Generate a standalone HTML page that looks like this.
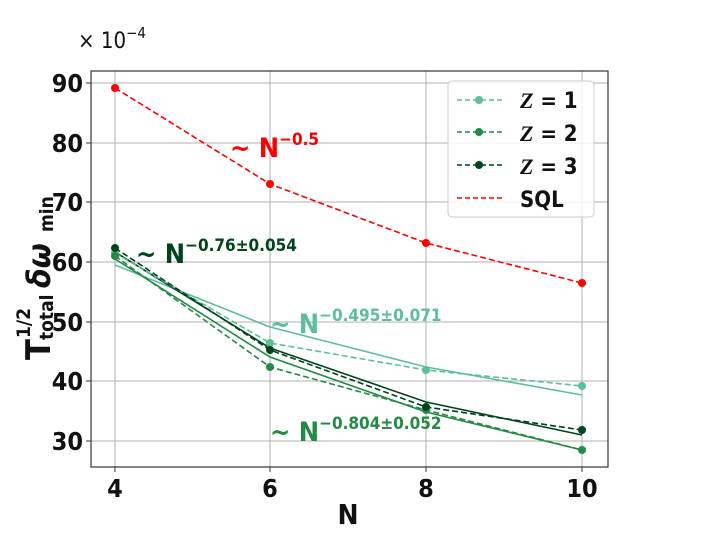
<!DOCTYPE html>
<html><head><style>
body{margin:0;background:#fff}
svg{font-family:"DejaVu Sans Condensed","Liberation Sans",sans-serif;font-weight:bold}
</style></head><body>
<svg width="720" height="539" viewBox="0 0 720 539" xmlns="http://www.w3.org/2000/svg">
<g stroke="#b0b0b0" stroke-width="1">
<line x1="115" y1="71" x2="115" y2="467"/><line x1="270" y1="71" x2="270" y2="467"/>
<line x1="426" y1="71" x2="426" y2="467"/><line x1="582" y1="71" x2="582" y2="467"/>
<line x1="91" y1="83" x2="608" y2="83"/><line x1="91" y1="143" x2="608" y2="143"/>
<line x1="91" y1="202" x2="608" y2="202"/><line x1="91" y1="262" x2="608" y2="262"/>
<line x1="91" y1="322" x2="608" y2="322"/><line x1="91" y1="381" x2="608" y2="381"/>
<line x1="91" y1="441" x2="608" y2="441"/>
</g>
<rect x="91" y="71" width="517" height="396" fill="none" stroke="#333" stroke-width="1.2"/>
<g stroke="#333"><line x1="115" y1="467" x2="115" y2="472"/><line x1="270" y1="467" x2="270" y2="472"/><line x1="426" y1="467" x2="426" y2="472"/><line x1="582" y1="467" x2="582" y2="472"/>
<line x1="86" y1="83" x2="91" y2="83"/><line x1="86" y1="143" x2="91" y2="143"/><line x1="86" y1="202" x2="91" y2="202"/><line x1="86" y1="262" x2="91" y2="262"/><line x1="86" y1="322" x2="91" y2="322"/><line x1="86" y1="381" x2="91" y2="381"/><line x1="86" y1="441" x2="91" y2="441"/></g>
<g font-size="25" text-anchor="end" fill="#111">
<text x="83" y="92">90</text><text x="83" y="152">80</text><text x="83" y="211">70</text><text x="83" y="271">60</text><text x="83" y="331">50</text><text x="83" y="390">40</text><text x="83" y="450">30</text></g>
<g font-size="25" text-anchor="middle" fill="#111">
<text x="115" y="497">4</text><text x="270" y="497">6</text><text x="426" y="497">8</text><text x="582" y="497">10</text>
<text x="348" y="524" font-size="28">N</text></g>
<text x="78" y="48" font-size="22" font-weight="normal" fill="#111">× 10<tspan font-size="15" dy="-10">−4</tspan></text>
<g transform="translate(50,360) rotate(-90)" fill="#111">
<text x="0" y="0" font-size="34">T</text>
<text x="22" y="-20" font-size="19">1/2</text>
<text x="20" y="3" font-size="19">total</text>
<text x="72" y="0" font-size="32" font-style="italic">δω</text>
<text x="128" y="3" font-size="19">min</text>
</g>
<!-- fits -->
<polyline points="115,265 270,327 426,367 582,395" fill="none" stroke="#5cbf9a" stroke-width="1.6"/>
<polyline points="115,259 270,357 426,412 582,450" fill="none" stroke="#238b45" stroke-width="1.6"/>
<polyline points="115,252 270,348 426,402 582,435" fill="none" stroke="#00441b" stroke-width="1.6"/>
<!-- data -->
<g fill="none" stroke-width="1.6" stroke-dasharray="6,3">
<polyline points="115,88 270,184 426,243 582,283" stroke="#ff0000"/>
<polyline points="115,253 270,343 426,370 582,386" stroke="#5cbf9a"/>
<polyline points="115,256 270,367 426,410 582,450" stroke="#238b45"/>
<polyline points="115,248 270,350 426,407 582,430" stroke="#00441b"/>
</g>
<g fill="#ff0000"><circle cx="115" cy="88" r="4"/><circle cx="270" cy="184" r="4"/><circle cx="426" cy="243" r="4"/><circle cx="582" cy="283" r="4"/></g>
<g fill="#5cbf9a"><circle cx="115" cy="253" r="4"/><circle cx="270" cy="343" r="4"/><circle cx="426" cy="370" r="4"/><circle cx="582" cy="386" r="4"/></g>
<g fill="#238b45"><circle cx="115" cy="256" r="4"/><circle cx="270" cy="367" r="4"/><circle cx="426" cy="410" r="4"/><circle cx="582" cy="450" r="4"/></g>
<g fill="#00441b"><circle cx="115" cy="248" r="4"/><circle cx="270" cy="350" r="4"/><circle cx="426" cy="407" r="4"/><circle cx="582" cy="430" r="4"/></g>
<!-- annotations -->
<text x="230" y="157" font-size="27" fill="#ff0000">∼ N<tspan font-size="17" dy="-12">−0.5</tspan></text>
<text x="136" y="263" font-size="27" fill="#00441b">∼ N<tspan font-size="17" dy="-12">−0.76±0.054</tspan></text>
<text x="270" y="333" font-size="27" fill="#5cbf9a">∼ N<tspan font-size="17" dy="-12">−0.495±0.071</tspan></text>
<text x="270" y="441" font-size="27" fill="#238b45">∼ N<tspan font-size="17" dy="-12">−0.804±0.052</tspan></text>
<!-- legend -->
<rect x="448" y="81" width="146" height="136" rx="4" fill="#fff" fill-opacity="0.85" stroke="#ccc"/>
<g stroke-width="1.6" stroke-dasharray="5,3">
<line x1="457" y1="100" x2="502" y2="100" stroke="#5cbf9a"/>
<line x1="457" y1="132" x2="502" y2="132" stroke="#238b45"/>
<line x1="457" y1="165" x2="502" y2="165" stroke="#00441b"/>
<line x1="457" y1="198" x2="502" y2="198" stroke="#ff0000"/></g>
<circle cx="479" cy="100" r="4" fill="#5cbf9a"/><circle cx="479" cy="132" r="4" fill="#238b45"/><circle cx="479" cy="165" r="4" fill="#00441b"/>
<g font-size="22" fill="#111">
<text x="520" y="108"><tspan font-style="italic" font-family="Liberation Serif,serif">Z</tspan> = 1</text>
<text x="520" y="141"><tspan font-style="italic" font-family="Liberation Serif,serif">Z</tspan> = 2</text>
<text x="520" y="174"><tspan font-style="italic" font-family="Liberation Serif,serif">Z</tspan> = 3</text>
<text x="520" y="207">SQL</text></g>
</svg>
</body></html>
